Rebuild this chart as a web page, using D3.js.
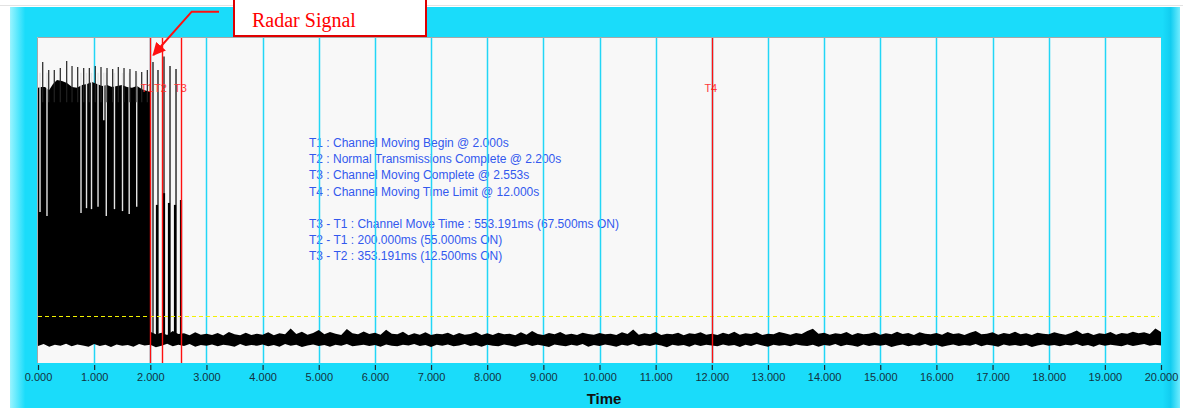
<!DOCTYPE html>
<html>
<head>
<meta charset="utf-8">
<script src="https://cdn.jsdelivr.net/npm/d3@7"></script>
<style>
  body { margin: 0; background: #fff; }
  svg { display: block; font-family: "Liberation Sans", Arial, sans-serif; }
</style>
</head>
<body>
<svg id="chart" width="1183" height="408"></svg>
<script>
// ====
// DATA
// ====

// x axis, seconds
const timeTicks = [0, 1, 2, 3, 4, 5, 6, 7, 8, 9, 10, 11, 12, 13, 14, 15, 16, 17, 18, 19, 20];

// markers
const markerNames = ["T1", "T2", "T3", "T4"];
const markerTimes = [2.0, 2.2, 2.553, 12.0];

// detection threshold (relative amplitude, 0..100)
const threshold = 14.4;

// noise floor envelope, one value every 0.1 s from 0 to 20 s
const noiseStep = 0.1;
const noiseHi = [
  8.4, 8.9, 8.2, 9.0, 8.5, 8.8, 8.3, 9.1, 8.6, 8.2, 8.9, 8.4, 9.0, 8.5, 8.7, 8.3, 9.2, 8.6, 8.4, 8.8,
  9.6, 8.8, 9.3, 8.6, 9.8, 8.9, 9.1, 8.5, 9.4, 8.7, 9.0, 8.6, 9.2, 8.4, 9.5, 8.8, 8.5, 9.3, 8.6, 9.0,
  8.7, 9.4, 8.5, 9.1, 8.8, 10.6, 8.9, 9.6, 8.7, 9.2, 10.1, 8.8, 9.5, 9.0, 8.6, 10.4, 9.1, 8.8, 9.7, 8.9,
  9.3, 8.7, 10.2, 9.0, 8.8, 9.6, 8.5, 9.1, 8.7, 9.4, 8.6, 9.0, 8.8, 9.3, 8.5, 9.2, 8.7, 8.9, 9.5, 8.6,
  9.1, 8.6, 9.3, 8.8, 9.0, 8.5, 9.4, 8.7, 9.8, 8.9, 8.6, 9.2, 8.8, 9.5, 8.7, 9.0, 8.6, 9.3, 8.9, 8.7,
  9.2, 8.8, 9.0, 8.6, 9.4, 8.9, 10.3, 8.7, 9.1, 8.8, 9.5, 8.6, 9.0, 8.8, 9.3, 8.5, 9.1, 8.9, 9.4, 8.7,
  9.0, 8.6, 9.3, 8.8, 9.6, 8.7, 9.1, 8.9, 9.4, 8.6, 9.0, 8.8, 9.5, 9.1, 8.7, 9.2, 8.9, 9.8, 10.5, 9.0,
  9.3, 8.7, 9.1, 8.9, 9.5, 8.6, 9.2, 8.8, 9.0, 9.4, 8.7, 9.1, 8.8, 9.6, 8.9, 9.2, 8.6, 9.4, 9.0, 8.8,
  9.2, 8.7, 9.5, 8.9, 9.1, 8.6, 9.3, 9.8, 8.8, 9.0, 9.4, 8.7, 9.2, 8.9, 9.6, 8.8, 9.1, 8.6, 9.3, 9.0,
  8.8, 9.4, 9.0, 8.7, 9.2, 10.0, 8.9, 9.3, 8.6, 9.1, 8.9, 9.5, 8.7, 9.2, 9.0, 9.6, 9.1, 9.4, 8.9, 10.6,
  9.5
];
const noiseLo = [
  5.2, 5.8, 5.0, 5.6, 5.3, 5.9, 5.1, 5.7, 5.4, 5.0, 5.8, 5.2, 5.6, 4.9, 5.7, 5.3, 5.5, 5.0, 5.8, 5.4,
  5.6, 4.8, 5.3, 5.9, 5.1, 5.6, 5.2, 5.8, 5.0, 5.5, 5.3, 5.7, 5.1, 5.6, 5.4, 5.0, 5.8, 5.2, 5.5, 5.3,
  5.7, 5.1, 5.5, 5.0, 5.8, 5.3, 5.6, 4.9, 5.4, 5.7, 5.2, 5.5, 5.0, 5.6, 5.3, 5.8, 5.1, 5.4, 5.6, 5.2,
  5.5, 5.0, 5.7, 5.3, 5.1, 5.6, 5.4, 5.8, 5.2, 5.5, 4.9, 5.6, 5.3, 5.7, 5.1, 5.4, 5.8, 5.2, 5.5, 5.0,
  5.6, 5.3, 5.1, 5.7, 5.4, 5.0, 5.5, 5.8, 5.2, 5.6, 5.3, 4.9, 5.7, 5.4, 5.1, 5.6, 5.3, 5.8, 5.0, 5.5,
  5.2, 5.7, 5.4, 5.0, 5.6, 5.3, 5.8, 5.1, 5.5, 5.2, 5.7, 5.4, 4.8, 5.6, 5.3, 5.5, 5.0, 5.7, 5.2, 5.6,
  5.4, 5.1, 5.7, 5.3, 5.5, 4.9, 5.6, 5.2, 5.8, 5.4, 5.0, 5.6, 5.3, 5.5, 5.1, 5.7, 5.4, 5.2, 5.6, 5.0,
  5.5, 5.3, 5.8, 5.1, 5.6, 5.4, 5.0, 5.7, 5.2, 5.5, 5.3, 5.6, 4.9, 5.4, 5.7, 5.1, 5.5, 5.3, 5.8, 5.2,
  5.6, 5.0, 5.4, 5.7, 5.2, 5.5, 5.3, 5.8, 5.1, 5.6, 5.4, 5.0, 5.7, 5.3, 5.5, 5.2, 5.6, 4.9, 5.4, 5.7,
  5.3, 5.5, 5.1, 5.6, 5.4, 5.8, 5.2, 5.5, 5.0, 5.7, 5.3, 5.6, 5.4, 5.1, 5.7, 5.2, 5.5, 5.8, 5.3, 5.6,
  5.4
];

// normal transmissions 0..2 s: upper edge of the dense block [time, value]
const blockBase = 7;
const blockTop = [
  [0.000, 84.4], [0.053, 84.7], [0.125, 84.7], [0.196, 83.7], [0.267, 85.6], [0.338, 86.8],
  [0.427, 86.5], [0.516, 85.9], [0.606, 84.7], [0.695, 84.4], [0.784, 85.3], [0.873, 85.6],
  [0.962, 86.2], [1.051, 85.6], [1.140, 85.0], [1.229, 85.3], [1.318, 84.7], [1.407, 85.0],
  [1.496, 85.3], [1.585, 84.7], [1.674, 84.4], [1.763, 85.0], [1.852, 84.0], [1.941, 83.4],
  [2.000, 83.4]
];

// short off gaps inside the block [time, lowest value reached]
const gaps = [
  [0.036, 46.3], [0.160, 45.1], [0.766, 46.0], [0.864, 47.5], [0.953, 47.2], [1.069, 47.9],
  [1.171, 74.5], [1.216, 45.1], [1.362, 47.2], [1.505, 46.6], [1.624, 45.7], [1.758, 47.9]
];

// pulse peaks above the block [time, peak]
const blockPeaks = [
  [0.084, 92.3], [0.191, 89.9], [0.290, 89.9], [0.397, 90.5], [0.511, 92.6], [0.606, 91.1],
  [0.707, 90.8], [0.814, 90.5], [0.914, 90.5], [1.020, 91.1], [1.122, 90.8], [1.229, 90.5],
  [1.330, 90.2], [1.430, 90.8], [1.532, 90.5], [1.638, 90.2], [1.745, 89.6], [1.847, 89.3],
  [1.947, 89.9]
];

// pulses during the channel move [time, peak]
const movePeaks = [[2.048, 92.3], [2.137, 89.9], [2.244, 94.0], [2.351, 91.1], [2.458, 90.2]];
const moveBodies = [[2.119, 48.5], [2.244, 52.1], [2.333, 49.1], [2.440, 48.5], [2.547, 50.0]];

const annotationLines = [
  "T1 : Channel Moving Begin @ 2.000s",
  "T2 : Normal Transmissions Complete @ 2.200s",
  "T3 : Channel Moving Complete @ 2.553s",
  "T4 : Channel Moving Time Limit @ 12.000s",
  "",
  "T3 - T1 : Channel Move Time : 553.191ms (67.500ms ON)",
  "T2 - T1 : 200.000ms (55.000ms ON)",
  "T3 - T2 : 353.191ms (12.500ms ON)"
];

// =======
// DRAWING
// =======

const svg = d3.select("#chart");
const plot = { left: 37, right: 1161, top: 37, bottom: 363 };

const x = d3.scaleLinear().domain([0, 20]).range([38, plot.right]);
const y = d3.scaleLinear().domain([0, 100]).range([plot.bottom, plot.top]);
// crisp 1px vertical lines
const px = t => Math.round(x(t)) + 0.5;

// frame
const defs = svg.append("defs");
const grad = defs.append("linearGradient").attr("id", "frameGrad");
[[0, "#9af4ff"], [0.013, "#1adcfa"], [0.985, "#1adcfa"], [0.992, "#12cdf0"], [1, "#6fecff"]]
  .forEach(s => grad.append("stop").attr("offset", s[0]).attr("stop-color", s[1]));

svg.append("line").attr("x1", 0).attr("x2", 1183).attr("y1", 5.5).attr("y2", 5.5)
  .attr("stroke", "#e2e2e2");
svg.append("rect").attr("x", 10).attr("y", 7).attr("width", 1170).attr("height", 401)
  .attr("fill", "url(#frameGrad)");

// plot background
svg.append("rect")
  .attr("x", plot.left).attr("y", plot.top)
  .attr("width", plot.right - plot.left).attr("height", plot.bottom - plot.top)
  .attr("fill", "#f8f8f8");
svg.append("path")
  .attr("d", `M${plot.left + 0.5},${plot.bottom}V${plot.top + 0.5}H${plot.right}`)
  .attr("fill", "none").attr("stroke", "#a8a8a8");

// annotation text
svg.append("g").selectAll("text")
  .data(annotationLines)
  .join("text")
  .attr("x", 309)
  .attr("y", (d, i) => 147 + i * 16.2)
  .attr("font-size", 12)
  .attr("fill", "#3358ee")
  .text(d => d);

// grid
svg.append("g").selectAll("line")
  .data(timeTicks.filter(t => t > 0 && t < 20))
  .join("line")
  .attr("x1", d => px(d)).attr("x2", d => px(d))
  .attr("y1", plot.top + 1).attr("y2", plot.bottom)
  .attr("stroke", "#22d6f6").attr("stroke-width", 1.5);

// signal
const sig = svg.append("g");
sig.append("path")
  .datum(blockTop)
  .attr("d", d3.area().x(d => x(d[0])).y0(y(blockBase)).y1(d => y(d[1])))
  .attr("fill", "#000");

sig.selectAll(".gap")
  .data(gaps)
  .join("line")
  .attr("class", "gap")
  .attr("x1", d => x(d[0])).attr("x2", d => x(d[0]))
  .attr("y1", y(89)).attr("y2", d => y(d[1]))
  .attr("stroke", "#e4e4e4").attr("stroke-width", 1.4);

sig.selectAll(".peak")
  .data(blockPeaks)
  .join("line")
  .attr("class", "peak")
  .attr("x1", d => x(d[0])).attr("x2", d => x(d[0]))
  .attr("y1", y(80)).attr("y2", d => y(d[1]))
  .attr("stroke", "#222").attr("stroke-width", 1.2);

sig.selectAll(".move")
  .data(movePeaks)
  .join("line")
  .attr("class", "move")
  .attr("x1", d => x(d[0])).attr("x2", d => x(d[0]))
  .attr("y1", y(9)).attr("y2", d => y(d[1]))
  .attr("stroke", "#000").attr("stroke-width", 1.2);

sig.selectAll(".body")
  .data(moveBodies)
  .join("line")
  .attr("class", "body")
  .attr("x1", d => x(d[0])).attr("x2", d => x(d[0]))
  .attr("y1", y(8)).attr("y2", d => y(d[1]))
  .attr("stroke", "#000").attr("stroke-width", 2.2);

sig.append("path")
  .datum(noiseHi.map((v, i) => [i * noiseStep, noiseLo[i], v]))
  .attr("d", d3.area().x(d => x(d[0])).y0(d => y(d[1])).y1(d => y(d[2])))
  .attr("fill", "#000");

// threshold
svg.append("line")
  .attr("x1", x(0)).attr("x2", x(20) - 2)
  .attr("y1", Math.round(y(threshold)) + 0.5).attr("y2", Math.round(y(threshold)) + 0.5)
  .attr("stroke", "#f2f200").attr("stroke-width", 1.2)
  .attr("stroke-dasharray", "4,3");

// markers (T1 nudged left so it does not run into T2)
const markers = svg.append("g");
markers.selectAll("text")
  .data(markerNames)
  .join("text")
  .attr("x", (d, i) => x(markerTimes[i]) - (i === 0 ? 3.5 : 1))
  .attr("y", 92)
  .attr("text-anchor", "middle")
  .attr("font-size", 11)
  .attr("fill", "#ff3a3a")
  .text(d => d);
markers.selectAll("line")
  .data(markerTimes)
  .join("line")
  .attr("x1", d => px(d)).attr("x2", d => px(d))
  .attr("y1", plot.top + 1).attr("y2", plot.bottom)
  .attr("stroke", "#ff1010").attr("stroke-width", 1.4);

// x axis
const axis = svg.append("g")
  .attr("transform", `translate(0,${plot.bottom + 2})`)
  .call(d3.axisBottom(x).tickValues(timeTicks).tickFormat(d3.format(".3f")).tickSize(5).tickPadding(3));
axis.select(".domain").remove();
axis.selectAll(".tick line").attr("stroke", "#1a2a30").attr("stroke-width", 1.2);
axis.selectAll(".tick text")
  .attr("font-family", "Liberation Sans, Arial, sans-serif")
  .attr("font-size", 11).attr("fill", "#13323e");

svg.append("text")
  .attr("x", 604).attr("y", 404)
  .attr("text-anchor", "middle")
  .attr("font-size", 15).attr("font-weight", "bold").attr("fill", "#111")
  .text("Time");

// callout
defs.append("marker")
  .attr("id", "arrowHead")
  .attr("viewBox", "0 0 10 10")
  .attr("refX", 9).attr("refY", 5)
  .attr("markerWidth", 6.5).attr("markerHeight", 6.5)
  .attr("markerUnits", "strokeWidth")
  .attr("orient", "auto")
  .append("path").attr("d", "M0,0L10,5L0,10Z").attr("fill", "#ff1010");

svg.append("path")
  .attr("d", "M219,11.7H191.7L153.3,55")
  .attr("fill", "none").attr("stroke", "#ff1010").attr("stroke-width", 2)
  .attr("marker-end", "url(#arrowHead)");

svg.append("rect")
  .attr("x", 234).attr("y", -6).attr("width", 192).attr("height", 42)
  .attr("fill", "#fff").attr("stroke", "#e00000").attr("stroke-width", 2);
svg.append("text")
  .attr("x", 252).attr("y", 27)
  .attr("font-family", "Liberation Serif, Times New Roman, serif")
  .attr("font-size", 20).attr("fill", "#ff0000")
  .text("Radar Signal");
</script>
</body>
</html>
